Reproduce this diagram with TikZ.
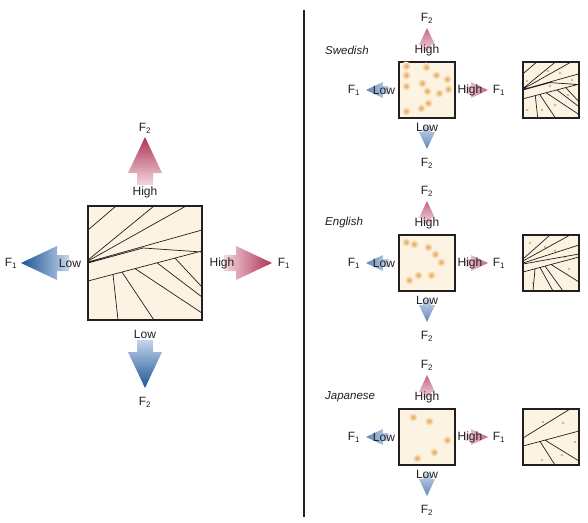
\documentclass[tikz,border=0pt]{standalone}
\usepackage{fontspec}
\setmainfont{Liberation Sans}
\definecolor{ink}{HTML}{231F20}
\definecolor{cream}{HTML}{FDF3E2}
\definecolor{hidark}{HTML}{AE3256}
\definecolor{hilight}{HTML}{F3D6DD}
\definecolor{lodark}{HTML}{1B5596}
\definecolor{lolight}{HTML}{C4D4EA}
\definecolor{dotc}{HTML}{E9A450}
\definecolor{dotsmall}{HTML}{D8B676}

% arrows: tip x, tip y, scale
\newcommand{\arrN}[3]{\shade[top color=hidark,bottom color=hilight] (#1,#2) -- ++(17*#3,36*#3) -- ++(-9*#3,0) -- ++(0,12*#3) -- ++(-16*#3,0) -- ++(0,-12*#3) -- ++(-9*#3,0) -- cycle;}
\newcommand{\arrS}[3]{\shade[top color=lolight,bottom color=lodark] (#1,#2) -- ++(17*#3,-36*#3) -- ++(-9*#3,0) -- ++(0,-12*#3) -- ++(-16*#3,0) -- ++(0,12*#3) -- ++(-9*#3,0) -- cycle;}
\newcommand{\arrW}[3]{\shade[left color=lodark,right color=lolight] (#1,#2) -- ++(36*#3,-17*#3) -- ++(0,9*#3) -- ++(12*#3,0) -- ++(0,16*#3) -- ++(-12*#3,0) -- ++(0,9*#3) -- cycle;}
\newcommand{\arrE}[3]{\shade[left color=hilight,right color=hidark] (#1,#2) -- ++(-36*#3,-17*#3) -- ++(0,9*#3) -- ++(-12*#3,0) -- ++(0,16*#3) -- ++(12*#3,0) -- ++(0,9*#3) -- cycle;}

% crack pattern of the large grain (square of 114)
\newcommand{\crackA}{\draw[crack] (0,24)--(28,0) (0,54)--(66,0) (0,55)--(98,0) (0,56)--(114,24)
  (0,57)--(55,42)--(114,46) (0,75)--(114,45) (25,68.4)--(30,114) (34,66.1)--(66,114)
  (47,62.6)--(114,107) (69,56.8)--(114,91) (87,52.1)--(114,81);}

\begin{document}
\begin{tikzpicture}[x=1pt,y=-1pt,
  txt/.style={font=\fontsize{12}{14}\selectfont,text=ink,inner sep=1pt},
  lang/.style={font=\fontsize{11.5}{14}\selectfont\itshape,text=ink,inner sep=0pt,anchor=west},
  bigsq/.style={draw=ink,line width=2.2pt,fill=cream,minimum size=114pt,inner sep=0pt,outer sep=0pt},
  smallsq/.style={bigsq,line width=2pt,minimum size=56pt},
  crack/.style={draw=ink,line width=0.7pt},
  glow/.style={inner color=dotc,outer color=cream},
  ]
  \useasboundingbox[fill=white] (0,0) rectangle (588,522);

  % left: the large grain
  \arrN{145}{137}{1} \arrS{145}{388}{1} \arrW{21}{263}{1} \arrE{272}{263}{1}
  \node[bigsq] (big) at (145,263) {};
  \begin{scope}[shift={(big.north west)}]
    \crackA
  \end{scope}
  \node[txt] (bigF2n) at (145,128) {F\textsubscript{2}};
  \node[txt] (bigHn) at (145,192) {High};
  \node[txt] (bigLs) at (145,334) {Low};
  \node[txt] (bigF2s) at (145,402) {F\textsubscript{2}};
  \node[txt] (bigLw) at (70,263) {Low};
  \node[txt] (bigF1w) at (11,263) {F\textsubscript{1}};
  \node[txt] (bigHe) at (222,263) {High};
  \node[txt] (bigF1e) at (284,263) {F\textsubscript{1}};

  \draw[ink,line width=1.3pt] (304,10) -- (304,517);

  % right: the three languages (paler arrows)
  \foreach \cy/\lang/\k in {90/Swedish/s,263/English/e,437/Japanese/j}{
    \colorlet{hidark}{hidark!75!white}
    \colorlet{lodark}{lodark!70!white}
    \arrN{427}{\cy-62}{0.47} \arrS{427}{\cy+59}{0.47}
    \arrW{366}{\cy}{0.47} \arrE{488}{\cy}{0.47}
    \node[smallsq] (L\k) at (427,\cy) {};
    \node[smallsq] (R\k) at (551,\cy) {};
    \node[lang] (lang\k) at (325,\cy-40) {\lang};
    \node[txt] (F2n\k) at (427,\cy-72) {F\textsubscript{2}};
    \node[txt] (Hn\k) at (427,\cy-40) {High};
    \node[txt] (Ls\k) at (427,\cy+37) {Low};
    \node[txt] (F2s\k) at (427,\cy+73) {F\textsubscript{2}};
    \node[txt] (Lw\k) at (384,\cy) {Low};
    \node[txt] (F1w\k) at (354,\cy) {F\textsubscript{1}};
    \node[txt] (He\k) at (470,\cy) {High};
    \node[txt] (F1e\k) at (499,\cy) {F\textsubscript{1}};
  }

  % dots in the melt
  \begin{scope}[shift={(Ls.center)}]
    \foreach \x/\y in {-21/-24,-1/-23,-21/-15,-21/-4,9/-15,20/-11,-5/-7,0/1,12/3,21/-1,-6/18,1/13,-21/21}
      \shade[glow] (\x,\y) circle (4.5);
  \end{scope}
  \begin{scope}[shift={(Le.center)}]
    \foreach \x/\y in {-21/-21,-13/-19,1/-16,8/-9,14/-1,-9/12,4/12,-18/17}
      \shade[glow] (\x,\y) circle (4.5);
  \end{scope}
  \begin{scope}[shift={(Lj.center)}]
    \foreach \x/\y in {-14/-20,2/-16,20/3,7/15,-10/21}
      \shade[glow] (\x,\y) circle (4.5);
  \end{scope}

  % the grains after cracking
  \begin{scope}[shift={(Rs.center)}]
    \foreach \x/\y in {-24/-9,-3/-19,9/-17,21/-10,-1/-4,17/5,-24/20,-9/20,4/15}
      \fill[dotsmall] (\x,\y) circle (1.4);
  \end{scope}
  \begin{scope}[shift={(Rs.north west)},scale=0.491]
    \crackA
  \end{scope}
  \begin{scope}[shift={(Re.center)}]
    \foreach \x/\y in {-21/-20,-6/-16,4/-12,14/-6,18/6,-18/20}
      \fill[dotsmall] (\x,\y) circle (1.4);
  \end{scope}
  \begin{scope}[shift={(Re.north west)}]
    \draw[crack] (0,24)--(27,0) (0,26)--(47,0) (0,28)--(56,10) (0,29)--(56,19) (0,37)--(56,22)
      (12,33.8)--(10,56) (17,32.4)--(30,56) (22,31.1)--(40,56) (28,29.5)--(56,47);
  \end{scope}
  \begin{scope}[shift={(Rj.center)}]
    \foreach \x/\y in {-8/-15,12/-14,24/5,11/18,-9/23}
      \fill[dotsmall] (\x,\y) circle (1.4);
  \end{scope}
  \begin{scope}[shift={(Rj.north west)}]
    \draw[crack] (0,29)--(47,0) (0,37)--(56,22) (17,32.4)--(32,56) (22,31.1)--(56,52);
  \end{scope}
\end{tikzpicture}
\end{document}
